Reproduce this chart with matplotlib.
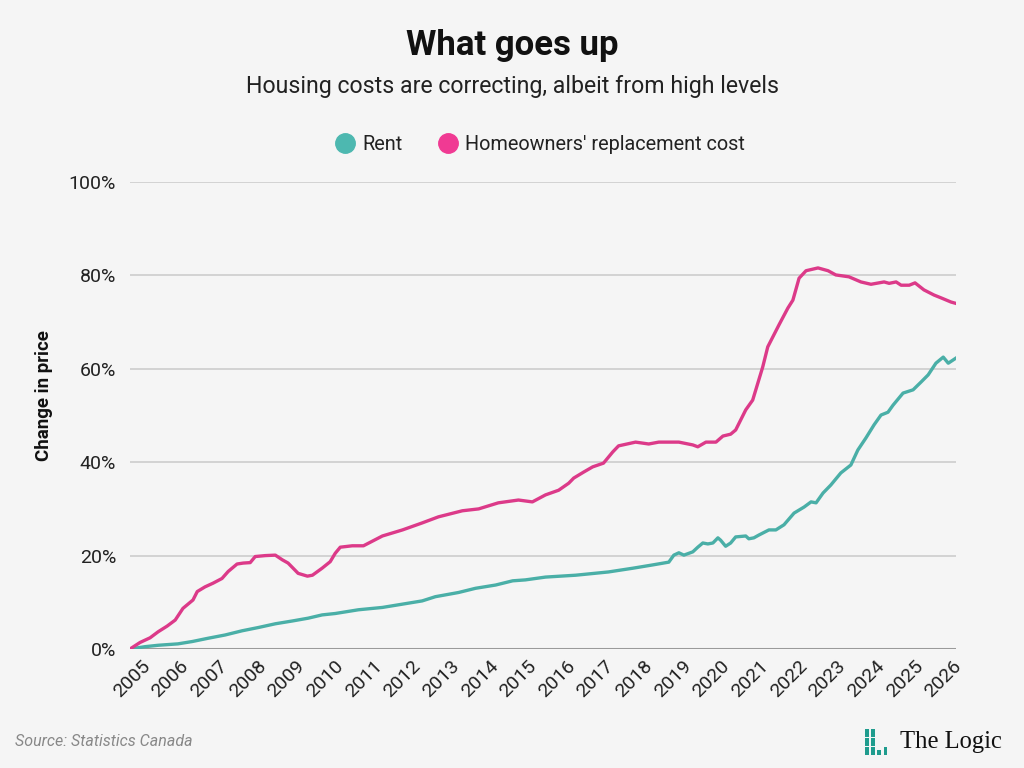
import matplotlib
matplotlib.use("Agg")
import matplotlib.pyplot as plt
from matplotlib.lines import Line2D
from matplotlib.patches import FancyBboxPatch
import matplotlib.transforms as mtransforms

# ---------------- data ----------------
rent_x = [2005.00, 2005.39, 2005.73, 2006.24, 2006.61, 2007.02, 2007.46, 2007.90, 2008.32, 2008.76,
          2009.20, 2009.61, 2009.97, 2010.31, 2010.91, 2011.53, 2012.56, 2012.90, 2013.50, 2013.94,
          2014.46, 2014.90, 2015.23, 2015.75, 2016.53, 2017.38, 2018.01, 2018.52, 2018.94, 2019.07,
          2019.20, 2019.33, 2019.56, 2019.69, 2019.82, 2019.95, 2020.08, 2020.21, 2020.28, 2020.41,
          2020.54, 2020.67, 2020.93, 2021.01, 2021.14, 2021.27, 2021.53, 2021.71, 2021.92, 2022.18,
          2022.44, 2022.62, 2022.75, 2022.93, 2023.13, 2023.39, 2023.65, 2023.83, 2024.04, 2024.25,
          2024.43, 2024.61, 2024.74, 2025.00, 2025.26, 2025.47, 2025.65, 2025.85, 2026.04, 2026.17,
          2026.37]
rent_y = [0.0, 0.5, 0.8, 1.1, 1.6, 2.3, 3.0, 3.9, 4.6, 5.4,
          6.0, 6.6, 7.3, 7.6, 8.4, 8.9, 10.3, 11.2, 12.1, 13.0,
          13.7, 14.6, 14.8, 15.4, 15.8, 16.5, 17.3, 18.0, 18.6, 20.1,
          20.6, 20.1, 20.8, 21.8, 22.7, 22.5, 22.7, 23.8, 23.3, 22.0,
          22.7, 24.0, 24.2, 23.6, 23.8, 24.4, 25.5, 25.5, 26.6, 29.1,
          30.4, 31.5, 31.3, 33.4, 35.1, 37.7, 39.4, 42.6, 45.2, 48.0,
          50.1, 50.7, 52.2, 54.8, 55.5, 57.2, 58.7, 61.2, 62.5, 61.2,
          62.3]

home_x = [2005.00, 2005.26, 2005.52, 2005.73, 2005.96, 2006.17, 2006.37, 2006.63, 2006.74, 2006.94,
          2007.15, 2007.38, 2007.54, 2007.77, 2007.93, 2008.11, 2008.24, 2008.50, 2008.76, 2008.94,
          2009.09, 2009.35, 2009.59, 2009.72, 2009.97, 2010.18, 2010.31, 2010.44, 2010.75, 2011.04,
          2011.53, 2012.05, 2012.56, 2012.98, 2013.60, 2014.02, 2014.53, 2015.05, 2015.41, 2015.75,
          2016.09, 2016.35, 2016.48, 2016.74, 2016.97, 2017.25, 2017.49, 2017.64, 2018.08, 2018.42,
          2018.68, 2019.20, 2019.56, 2019.69, 2019.90, 2020.16, 2020.34, 2020.54, 2020.67, 2020.93,
          2021.11, 2021.37, 2021.50, 2021.79, 2022.02, 2022.15, 2022.31, 2022.49, 2022.80, 2023.06,
          2023.26, 2023.60, 2023.91, 2024.17, 2024.51, 2024.64, 2024.82, 2024.95, 2025.16, 2025.31,
          2025.54, 2025.80, 2025.98, 2026.24, 2026.37]
home_y = [0.0, 1.4, 2.4, 3.7, 4.9, 6.2, 8.7, 10.5, 12.3, 13.3,
          14.1, 15.1, 16.6, 18.2, 18.4, 18.5, 19.8, 20.0, 20.1, 19.1,
          18.4, 16.2, 15.6, 15.8, 17.3, 18.7, 20.5, 21.8, 22.1, 22.1,
          24.2, 25.5, 27.0, 28.3, 29.6, 30.0, 31.3, 31.9, 31.5, 33.0,
          34.0, 35.5, 36.6, 37.9, 39.0, 39.8, 42.2, 43.5, 44.3, 43.9,
          44.3, 44.3, 43.7, 43.3, 44.3, 44.3, 45.6, 46.0, 46.9, 51.2,
          53.3, 60.4, 64.7, 69.4, 73.0, 74.7, 79.4, 81.0, 81.6, 81.0,
          80.1, 79.7, 78.6, 78.1, 78.6, 78.3, 78.6, 77.9, 77.9, 78.4,
          76.9, 75.8, 75.2, 74.3, 74.0]

years = list(range(2005, 2027))
year_labels = [str(y) for y in years]
y_ticks = [0, 20, 40, 60, 80, 100]
y_labels = ["0%", "20%", "40%", "60%", "80%", "100%"]
series_names = ["Rent", "Homeowners' replacement cost"]

# ---------------- style ----------------
BG = "#f5f5f5"
TEAL = "#4aafa7"
PINK = "#dc3a89"
TEAL_LEG = "#4db8b0"
PINK_LEG = "#f03a93"
plt.rcParams["font.family"] = ["Roboto", "DejaVu Sans"]

fig = plt.figure(figsize=(10.24, 7.68), dpi=100, facecolor=BG)
ax = fig.add_axes([130 / 1024, 1 - 649 / 768, (956 - 130) / 1024, (649 - 182) / 768])
ax.set_facecolor(BG)

ax.set_xlim(2005, 2026.37)
ax.set_ylim(0, 100)

for yt in y_ticks[1:]:
    ax.axhline(yt, color="#c9c9c9", lw=1.1, zorder=1)
ax.axhline(0, color="#9a9a9a", lw=2.2, zorder=3)

ax.plot(rent_x, rent_y, color=TEAL, lw=2.4, zorder=4, solid_joinstyle="round")
ax.plot(home_x, home_y, color=PINK, lw=2.4, zorder=4, solid_joinstyle="round")

for s in ax.spines.values():
    s.set_visible(False)

ax.set_yticks(y_ticks)
ax.set_yticklabels(y_labels, fontsize=14, color="#222222")
ax.set_xticks(years)
ax.set_xticklabels(year_labels, fontsize=14, color="#222222", rotation=45,
                   ha="right", va="top", rotation_mode="anchor")
ax.tick_params(axis="both", length=0)
ax.tick_params(axis="y", pad=10)
ax.tick_params(axis="x", pad=6)
off = mtransforms.ScaledTranslation(11 / 100, 0, fig.dpi_scale_trans)
for lab in ax.get_xticklabels():
    lab.set_transform(lab.get_transform() + off)

fig.text(44 / 1024, 1 - 396 / 768, "Change in price", rotation=90, ha="center", va="center",
         fontsize=13.5, fontweight="bold", color="#111111")

# titles
fig.text(0.5, 1 - 45 / 768, "What goes up", ha="center", va="center",
         fontsize=25, fontweight="bold", color="#111111")
fig.text(0.5, 1 - 86 / 768, "Housing costs are correcting, albeit from high levels",
         ha="center", va="center", fontsize=16.7, color="#222222")

# legend
handles = [Line2D([], [], marker="o", ls="none", markersize=14, markerfacecolor=TEAL_LEG,
                  markeredgecolor=TEAL_LEG),
           Line2D([], [], marker="o", ls="none", markersize=14, markerfacecolor=PINK_LEG,
                  markeredgecolor=PINK_LEG)]
fig.legend(handles, series_names, loc="center", bbox_to_anchor=(537 / 1024, 1 - 144 / 768),
           ncol=2, frameon=False, fontsize=14.3, handletextpad=0.05, columnspacing=1.5,
           handlelength=1.6, labelcolor="#222222")

# footer
fig.text(15 / 1024, 1 - 742 / 768, "Source: Statistics Canada", ha="left", va="center",
         fontsize=11.5, style="italic", color="#888888")

# logo
segments = [(864.5, 729, 4, 8), (864.5, 738, 4, 8), (864.5, 747, 4, 8),
            (871, 729, 4, 8), (871, 738, 4, 8), (871, 747, 4, 8),
            (877.3, 749.5, 3.6, 5.5), (883.5, 746.5, 3.6, 8.5)]
for bx, by, bw, bh in segments:
    fig.patches.append(FancyBboxPatch((bx / 1024, 1 - (by + bh) / 768), bw / 1024, bh / 768,
                                      boxstyle="square,pad=0", transform=fig.transFigure,
                                      facecolor="#1f9c8e", edgecolor="none"))
fig.text(900 / 1024, 1 - 748 / 768, "The Logic", ha="left", va="baseline",
         fontsize=17.7, color="#111111", family=["Liberation Serif", "DejaVu Serif"])

fig.savefig("out.png", dpi=100, facecolor=BG)
